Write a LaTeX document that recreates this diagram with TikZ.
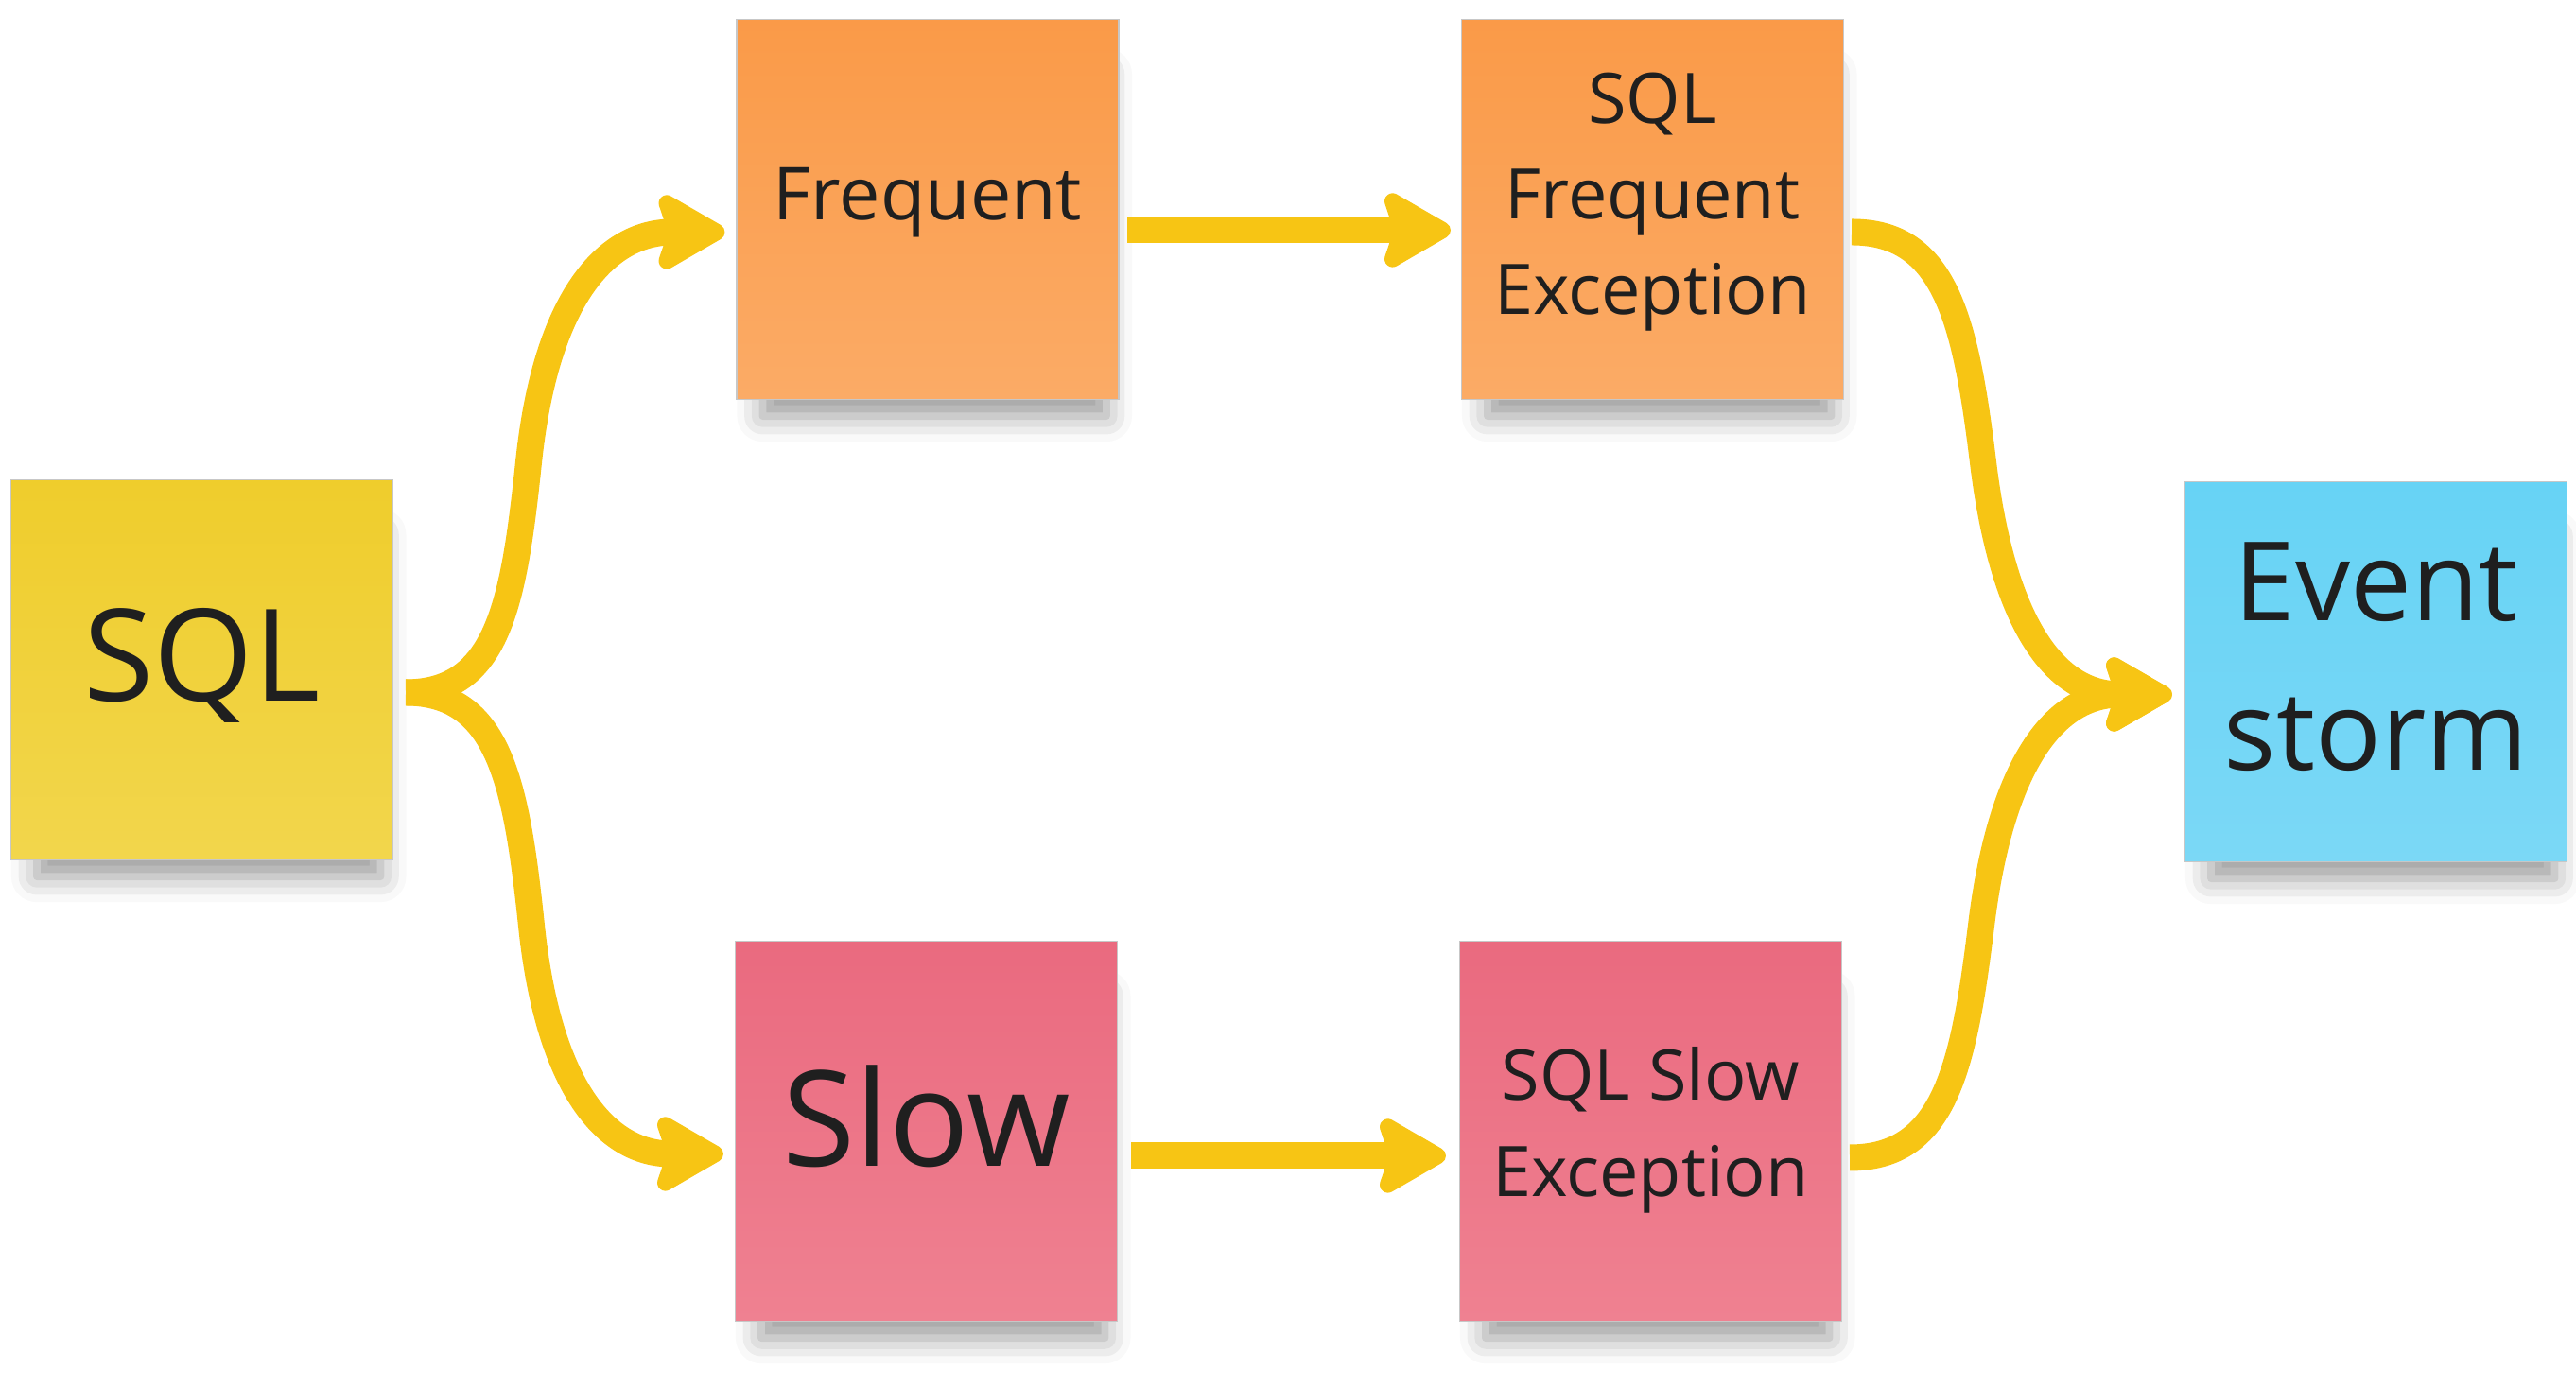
\documentclass[tikz,border=0pt]{standalone}
\usepackage{fontspec}
\setmainfont{Open Sans}
\usepackage{xcolor}
\usetikzlibrary{positioning, calc, arrows.meta, shadows.blur}

\definecolor{yellowtop}{HTML}{EFCD2C}
\definecolor{yellowbot}{HTML}{F2D64C}
\definecolor{orangetop}{HTML}{FA9A48}
\definecolor{orangebot}{HTML}{FBAB66}
\definecolor{pinktop}{HTML}{EA6A7F}
\definecolor{pinkbot}{HTML}{EF8191}
\definecolor{bluetop}{HTML}{67D3F5}
\definecolor{bluebot}{HTML}{7BD8F6}
\definecolor{arrowyellow}{HTML}{F7C514}

\begin{document}
\begin{tikzpicture}[
    note/.style={draw=black!22, line width=0.3pt, minimum width=4.04cm, minimum height=4.02cm,
        align=center, text=black!88, text depth=0.33cm,
        blur shadow={shadow xshift=0.08cm, shadow yshift=-0.42cm, shadow scale=0.9,
                     shadow blur radius=0.3cm, shadow opacity=40}},
    link/.style={line width=2.8mm, draw=arrowyellow,
        -{Stealth[length=8.4mm, width=9.5mm, inset=1.5mm, round, line width=2mm]}},
    tomid/.style={out looseness=0.9, in looseness=1.4},
    frommid/.style={out looseness=1.4}
]

    % Page frame: 2724 x 1467 px at 100 px per cm
    \useasboundingbox (0,0) rectangle (27.24,14.67);

    % --- LEFT COLUMN ---
    \node[note, top color=yellowtop, bottom color=yellowbot,
          font=\fontsize{38.5}{46}\selectfont] (sql) at (2.135,7.585) {SQL};

    % --- MIDDLE COLUMNS ---
    % Top row: frequent path
    \node[note, top color=orangetop, bottom color=orangebot,
          font=\fontsize{22}{27}\selectfont] (freq) at (9.81,12.455) {Frequent};
    \node[note, top color=orangetop, bottom color=orangebot,
          font=\fontsize{21}{28.7}\selectfont] (freqexc) at (17.475,12.455) {SQL\\Frequent\\Exception};

    % Bottom row: slow path
    \node[note, top color=pinktop, bottom color=pinkbot,
          font=\fontsize{40}{48}\selectfont] (slow) at (9.795,2.705) {Slow};
    \node[note, top color=pinktop, bottom color=pinkbot, text depth=0.2cm,
          font=\fontsize{21}{29}\selectfont] (slowexc) at (17.455,2.705) {SQL Slow\\Exception};

    % --- RIGHT COLUMN ---
    \node[note, top color=bluetop, bottom color=bluebot,
          font=\fontsize{33}{45}\selectfont] (event) at (25.125,7.565) {Event\\storm};

    % Ends and middles of the curved arrows
    \coordinate (sqlout) at ([shift={(0.13,-0.24)}]sql.east);
    \coordinate (splitup) at (5.59,9.78);
    \coordinate (splitdown) at (5.62,4.88);
    \coordinate (joinup) at (20.97,9.78);
    \coordinate (joindown) at (20.95,4.88);
    \coordinate (eventin) at ([shift={(-0.13,-0.24)}]event.west);

    % --- ARROWS ---
    % Split out of SQL
    \draw[link] (sqlout) to[out=0, in=-96, tomid] (splitup)
        to[out=84, in=180, frommid] ([shift={(-0.12,-0.24)}]freq.west);
    \draw[link] (sqlout) to[out=0, in=96, tomid] (splitdown)
        to[out=-84, in=180, frommid] ([shift={(-0.12,-0.24)}]slow.west);

    % Straight across
    \draw[link] ([shift={(0.08,-0.22)}]freq.east) -- ([shift={(-0.11,-0.22)}]freqexc.west);
    \draw[link] ([shift={(0.14,-0.26)}]slow.east) -- ([shift={(-0.14,-0.26)}]slowexc.west);

    % Join into Event storm
    \draw[link] ([shift={(0.08,-0.24)}]freqexc.east) to[out=0, in=97, tomid] (joinup)
        to[out=-83, in=180, frommid] (eventin);
    \draw[link] ([shift={(0.08,-0.28)}]slowexc.east) to[out=0, in=-97, tomid] (joindown)
        to[out=83, in=180, frommid] (eventin);

\end{tikzpicture}
\end{document}
